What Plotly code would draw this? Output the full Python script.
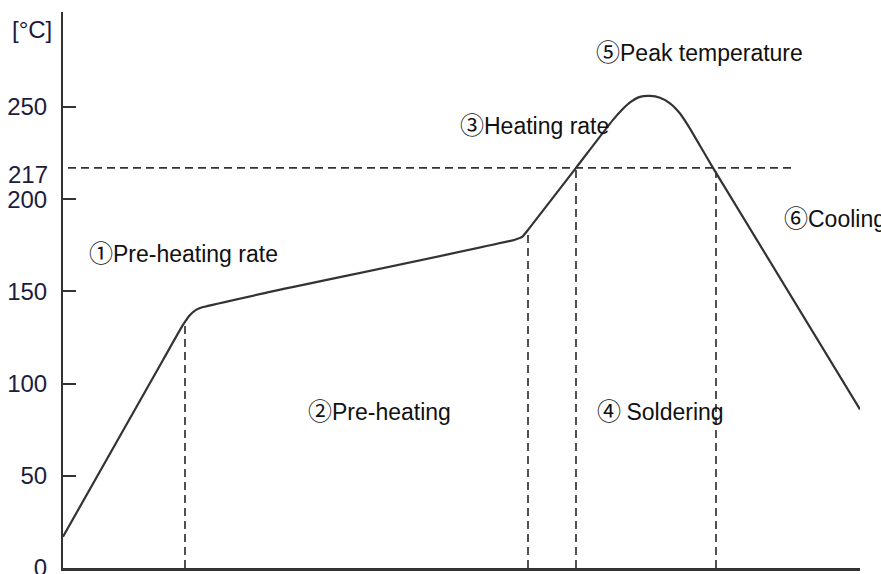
import plotly.graph_objects as go

# ---- data ----
time_s = [0, 100, 120, 127, 133, 140, 207, 452, 459, 466, 513, 550, 560, 567, 577, 587, 597, 607, 617, 625, 650, 797]
temp_c = [17, 112.8, 131.8, 137.2, 140, 141.5, 149.7, 178, 179.5, 184, 217, 243, 249, 252.5, 255.5, 256, 255, 252, 246.5, 240, 217, 86]

ytick_vals = [0, 50, 100, 150, 200, 250]
liquidus = 217
liquidus_span = [5, 732]
phase_x = [122, 465, 513, 653]
phase_top = [133, 183, 217, 215]

label_marks = ["①", "②", "③", "④ ", "⑤", "⑥"]
label_texts = ["Pre-heating rate", "Pre-heating", "Heating rate", "Soldering", "Peak temperature", "Cooling"]
label_x = [24, 243, 395, 532, 531, 719]
label_y = [170.3, 84.6, 239.7, 85.1, 279.6, 189.3]

LINE = "#333333"
TICKFONT = dict(family="Liberation Sans, Arial, sans-serif", size=24, color="#1c1c3c")
TEXTFONT = dict(family="Liberation Sans, Arial, sans-serif", size=23, color="#111111")
MARKSTYLE = "font-family:'Noto Sans CJK JP';font-size:24px"

fig = go.Figure()

# dashed vertical phase boundaries
vx, vy = [], []
for x, top in zip(phase_x, phase_top):
    vx += [x, x, None]
    vy += [0, top, None]
fig.add_trace(go.Scatter(x=vx, y=vy, mode="lines",
                         line=dict(color=LINE, width=1.7, dash="8px,5px"),
                         hoverinfo="skip", showlegend=False))

# dashed 217 line
fig.add_trace(go.Scatter(x=liquidus_span, y=[liquidus, liquidus], mode="lines",
                         line=dict(color=LINE, width=1.7, dash="8px,5px"),
                         hoverinfo="skip", showlegend=False))

# profile curve
fig.add_trace(go.Scatter(x=time_s, y=temp_c, mode="lines",
                         line=dict(color=LINE, width=2.2, shape="spline", smoothing=0.5),
                         showlegend=False))

for m, t, x, y in zip(label_marks, label_texts, label_x, label_y):
    fig.add_annotation(x=x, y=y, yshift=2, text=f'<span style="{MARKSTYLE}">{m}</span>{t}',
                       showarrow=False, xanchor="left", yanchor="middle", font=TEXTFONT)

fig.add_annotation(xref="paper", x=0, xshift=-13, xanchor="right", y=liquidus, yshift=-7,
                   text=str(liquidus), showarrow=False, font=TICKFONT)
fig.add_annotation(xref="paper", x=0, xshift=-9, xanchor="right", y=292,
                   text="[°C]", showarrow=False, font=TICKFONT)

fig.update_layout(
    width=881, height=574,
    margin=dict(l=63, r=21, t=12, b=6, autoexpand=False),
    paper_bgcolor="white", plot_bgcolor="white",
    xaxis=dict(range=[0, 797], showgrid=False, zeroline=False, showticklabels=False,
               ticks="", showline=True, linecolor=LINE, linewidth=3, automargin=False),
    yaxis=dict(range=[0, 301.5], showgrid=False, zeroline=False, tickvals=ytick_vals,
               ticks="inside", ticklen=13, tickwidth=2, tickcolor=LINE,
               showline=True, linecolor=LINE, linewidth=2, tickfont=TICKFONT,
               ticklabelstandoff=9, automargin=False, ticklabeloverflow="allow"),
)

fig.write_html("out.html", config={"displayModeBar": False},
               post_script="document.body.style.margin='0';document.body.style.overflow='hidden';")
